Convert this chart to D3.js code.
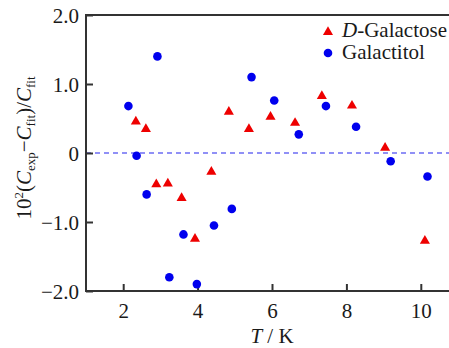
<!DOCTYPE html>
<html>
<head>
<meta charset="utf-8">
<script src="https://cdn.jsdelivr.net/npm/d3@7"></script>
<style>
body { margin: 0; background: #fff; }
</style>
</head>
<body>
<script>
// values
var galactoseT = [2.34, 2.61, 2.89, 3.20, 3.57, 3.93, 4.37, 4.84, 5.38, 5.96, 6.62, 7.34, 8.15, 9.04, 10.11];
var galactoseDev = [0.47, 0.36, -0.44, -0.43, -0.64, -1.23, -0.26, 0.61, 0.36, 0.54, 0.45, 0.84, 0.70, 0.09, -1.26];
var galactitolT = [2.14, 2.36, 2.63, 2.92, 3.24, 3.62, 3.98, 4.44, 4.92, 5.45, 6.06, 6.72, 7.45, 8.26, 9.19, 10.18];
var galactitolDev = [0.68, -0.04, -0.60, 1.40, -1.80, -1.18, -1.90, -1.05, -0.81, 1.10, 0.76, 0.27, 0.68, 0.38, -0.12, -0.34];
var xTicks = [2, 4, 6, 8, 10];
var yTicks = [2, 1, 0, -1, -2];
var yTickLabels = ["2.0", "1.0", "0", "\u22121.0", "\u22122.0"];

var width = 449, height = 348;
var font = "Liberation Serif";
var fs = 21;
var svg = d3.select("body").append("svg")
    .attr("width", width)
    .attr("height", height);

var x = d3.scaleLinear().domain([1, 11]).range([86, 458]);
var y = d3.scaleLinear().domain([-2, 2]).range([291, 15]);

// zero line
svg.append("line")
    .attr("x1", x(1)).attr("x2", x(11))
    .attr("y1", y(0)).attr("y2", y(0))
    .attr("stroke", "#2222ee")
    .attr("stroke-width", 1.2)
    .attr("stroke-dasharray", "5,4");

// frame
svg.append("rect")
    .attr("x", x(1)).attr("y", y(2))
    .attr("width", x(11) - x(1)).attr("height", y(-2) - y(2))
    .attr("fill", "none")
    .attr("stroke", "#333")
    .attr("stroke-width", 2);

// axes, ticks inward
var xAxis = svg.append("g")
    .attr("transform", "translate(0," + y(-2) + ")")
    .call(d3.axisBottom(x).tickValues(xTicks).tickSize(-7).tickPadding(12).tickFormat(d3.format("d")));
var yAxis = svg.append("g")
    .attr("transform", "translate(" + x(1) + ",0)")
    .call(d3.axisLeft(y).tickValues(yTicks).tickSize(-7).tickPadding(7)
        .tickFormat(function (d, i) { return yTickLabels[i]; }));
[xAxis, yAxis].forEach(function (g) {
    g.attr("font-family", font).attr("font-size", fs);
    g.select(".domain").remove();
    g.selectAll(".tick line").attr("stroke", "#333").attr("stroke-width", 2);
    g.selectAll(".tick text").style("font-family", font).attr("fill", "#1a1a1a");
});
yAxis.selectAll(".tick text").attr("dy", "0.38em");

// points
var sym = d3.symbol().type(d3.symbolTriangle).size(44);
svg.append("g").selectAll("path")
    .data(galactoseT)
    .enter()
    .append("path")
    .attr("d", sym)
    .attr("transform", function (d, i) { return "translate(" + x(d) + "," + (y(galactoseDev[i]) + 1) + ")"; })
    .attr("fill", "#ee0000");

svg.append("g").selectAll("circle")
    .data(galactitolT)
    .enter()
    .append("circle")
    .attr("cx", function (d) { return x(d); })
    .attr("cy", function (d, i) { return y(galactitolDev[i]); })
    .attr("r", 4.3)
    .attr("fill", "#0000ee");

function label(xp, yp) {
    return svg.append("text").attr("x", xp).attr("y", yp)
        .style("font-family", font).attr("font-size", fs).attr("fill", "#1a1a1a");
}

// legend
svg.append("path")
    .attr("d", sym)
    .attr("transform", "translate(328,32)")
    .attr("fill", "#ee0000");
var t1 = label(342, 37);
t1.append("tspan").attr("font-style", "italic").text("D");
t1.append("tspan").text("-Galactose");
svg.append("circle").attr("cx", 328).attr("cy", 53).attr("r", 4.3).attr("fill", "#0000ee");
label(342, 59).text("Galactitol");

// axis titles
var xl = label(272, 343).attr("text-anchor", "middle");
xl.append("tspan").attr("font-style", "italic").text("T");
xl.append("tspan").text(" / K");

var yl = label(0, 0)
    .attr("transform", "translate(31,148) rotate(-90)")
    .attr("text-anchor", "middle");
yl.append("tspan").text("10");
yl.append("tspan").attr("font-size", 13).attr("dy", -8).text("2");
yl.append("tspan").attr("dy", 8).text("(");
yl.append("tspan").attr("font-style", "italic").text("C");
yl.append("tspan").attr("font-size", 13).attr("dy", 4).text("exp");
yl.append("tspan").attr("dy", -4).text("\u2212");
yl.append("tspan").attr("font-style", "italic").text("C");
yl.append("tspan").attr("font-size", 13).attr("dy", 4).text("fit");
yl.append("tspan").attr("dy", -4).text(")/");
yl.append("tspan").attr("font-style", "italic").text("C");
yl.append("tspan").attr("font-size", 13).attr("dy", 4).text("fit");
</script>
</body>
</html>
